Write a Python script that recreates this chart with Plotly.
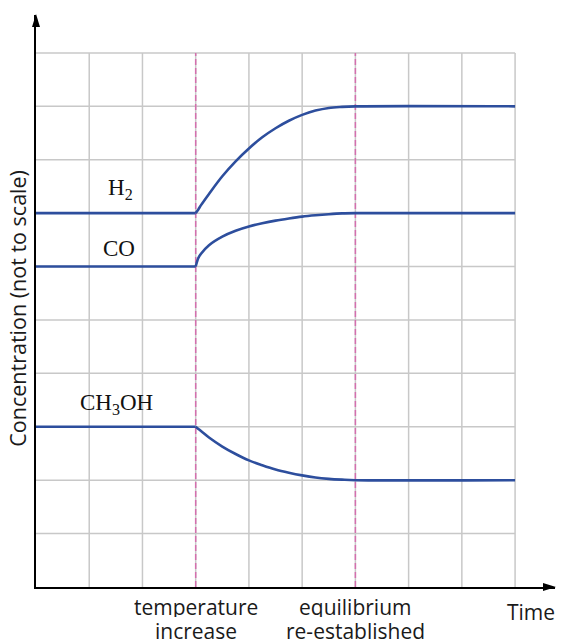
import plotly.graph_objects as go

# ---- data (grid units: time 0..9, concentration 0..10) ----
time = [0, 3, 3.05, 3.1, 3.25, 3.5, 3.75, 4, 4.25, 4.5, 4.75, 5, 5.25, 5.5, 5.75, 6, 9]
h2 = [7, 7, 7.07, 7.15, 7.36, 7.69, 7.97, 8.21, 8.42, 8.59, 8.73, 8.84, 8.92, 8.97, 8.99, 9, 9]
co = [6, 6, 6.16, 6.24, 6.40, 6.56, 6.67, 6.75, 6.81, 6.86, 6.90, 6.935, 6.96, 6.98, 6.995, 7, 7]
ch3oh = [3, 3, 2.96, 2.92, 2.80, 2.63, 2.49, 2.37, 2.28, 2.20, 2.14, 2.09, 2.05, 2.025, 2.01, 2, 2]

series_names = ["H<sub>2</sub>", "CO", "CH<sub>3</sub>OH"]
label_x = [1.58, 1.56, 1.52]
label_y = [7.45, 6.33, 3.43]

event_times = [3, 6]
event_line1 = ["temperature", "equilibrium"]
event_line2 = ["increase", "re-established"]

x_cells = 9
y_cells = 10
x_max = 9.75
y_max = 10.71

LINE = "#2d4e9d"
GRID = "#c8c8c8"
DASH = "#d46fae"
SANS = "Open Sans"
SERIF = "Liberation Serif"
TXT = "#1a1a1a"

fig = go.Figure()

for vals in (h2, co, ch3oh):
    fig.add_trace(go.Scatter(x=time[:2], y=vals[:2], mode="lines",
                             line=dict(color=LINE, width=2.6), showlegend=False,
                             hoverinfo="skip"))
    fig.add_trace(go.Scatter(x=time[1:], y=vals[1:], mode="lines",
                             line=dict(color=LINE, width=2.6, shape="spline", smoothing=1),
                             showlegend=False, hoverinfo="skip"))

shapes = []
for i in range(1, x_cells + 1):
    shapes.append(dict(type="line", xref="x", yref="y", x0=i, x1=i, y0=0, y1=y_cells,
                       line=dict(color=GRID, width=1.5), layer="below"))
for j in range(1, y_cells + 1):
    shapes.append(dict(type="line", xref="x", yref="y", x0=0, x1=x_cells, y0=j, y1=j,
                       line=dict(color=GRID, width=1.5), layer="below"))
for t in event_times:
    shapes.append(dict(type="line", xref="x", yref="y", x0=t, x1=t, y0=0, y1=y_cells,
                       line=dict(color=DASH, width=1.5, dash="6px,3px"), layer="below"))
# arrowheads at the ends of the axes (paper refs so they are not clipped)
shapes.append(dict(type="path", xref="paper", yref="paper", xsizemode="pixel", ysizemode="pixel",
                   xanchor=1, yanchor=0, path="M 1,0 L -12,4 L -12,-4 Z",
                   fillcolor="black", line=dict(color="black", width=0)))
shapes.append(dict(type="path", xref="paper", yref="paper", xsizemode="pixel", ysizemode="pixel",
                   xanchor=0, yanchor=1, path="M 0,1 L -4,-12 L 4,-12 Z",
                   fillcolor="black", line=dict(color="black", width=0)))

annotations = []
for name, lx, ly in zip(series_names, label_x, label_y):
    annotations.append(dict(x=lx, y=ly, xref="x", yref="y", text=name, showarrow=False,
                            font=dict(family=SERIF, size=23, color="#111"),
                            xanchor="center", yanchor="middle"))
for t, l1, l2 in zip(event_times, event_line1, event_line2):
    annotations.append(dict(x=t, y=-0.034, xref="x", yref="paper", text=l1, showarrow=False,
                            font=dict(family=SANS, size=21, color=TXT), height=21,
                            xanchor="center", yanchor="middle"))
    annotations.append(dict(x=t, y=-0.076, xref="x", yref="paper", text=l2, showarrow=False,
                            font=dict(family=SANS, size=21, color=TXT), height=21,
                            xanchor="center", yanchor="middle"))
annotations.append(dict(x=0.954, y=-0.043, xref="paper", yref="paper", text="Time",
                        showarrow=False, font=dict(family=SANS, size=21, color=TXT),
                        xanchor="center", yanchor="middle"))
annotations.append(dict(x=-0.035, y=0.488, xref="paper", yref="paper",
                        text="Concentration (not to scale)", textangle=-90, showarrow=False,
                        font=dict(family=SANS, size=21.5, color=TXT),
                        xanchor="center", yanchor="middle"))

fig.update_layout(
    width=561, height=640,
    margin=dict(l=36, r=6, t=15, b=53),
    paper_bgcolor="white", plot_bgcolor="white",
    shapes=shapes, annotations=annotations,
    xaxis=dict(range=[0, x_max], showgrid=False, zeroline=False, showline=True,
               linecolor="black", linewidth=1.8, showticklabels=False, ticks="",
               automargin=False, fixedrange=True),
    yaxis=dict(range=[0, y_max], showgrid=False, zeroline=False, showline=True,
               linecolor="black", linewidth=1.8, showticklabels=False, ticks="",
               automargin=False, fixedrange=True),
    showlegend=False,
)

fig.write_html("out.html")
